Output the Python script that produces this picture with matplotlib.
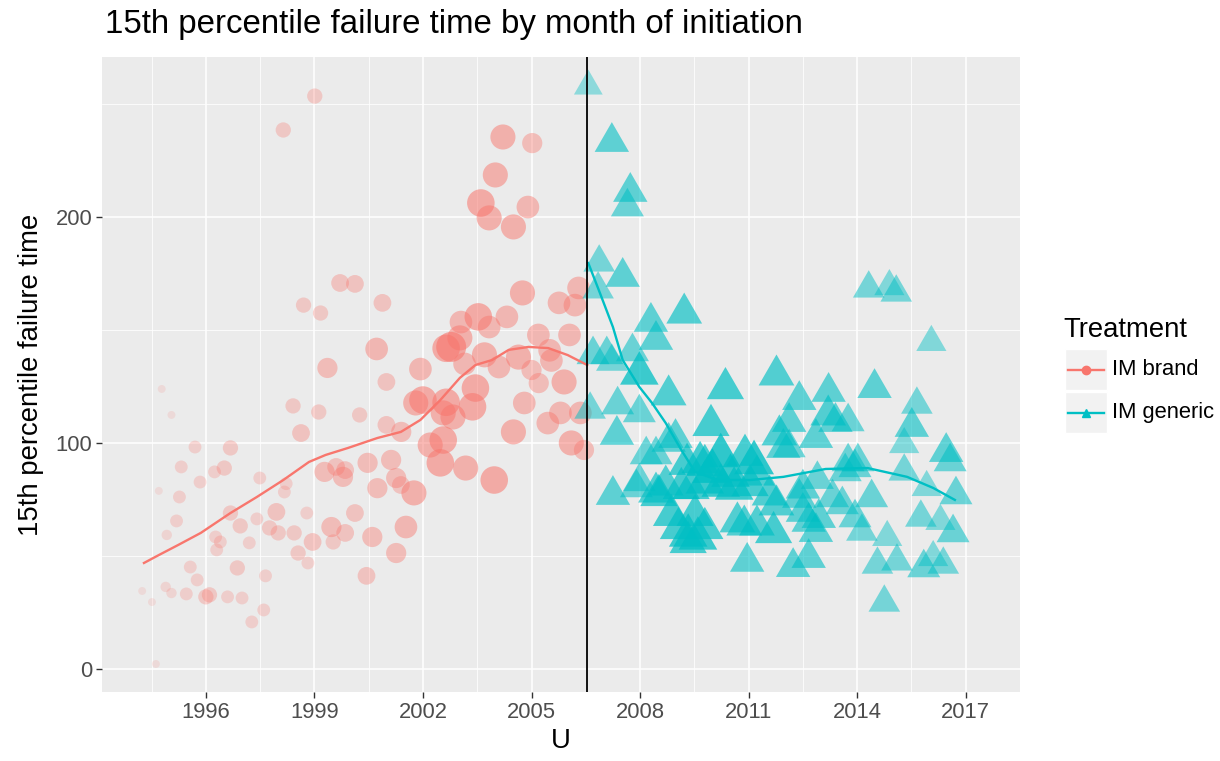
import matplotlib
matplotlib.use("Agg")
import matplotlib.pyplot as plt
import numpy as np
from matplotlib.lines import Line2D
from matplotlib.patches import Rectangle

# ---------------- data ----------------
# IM brand: decimal year, 15th percentile failure time, weight (1-10)
brand_x = [1999.01, 1998.14, 2004.21, 2005.02, 2004.0, 2003.6, 2003.83, 2004.9, 2004.5,
           1999.71, 2000.12, 1998.7, 1999.17, 2000.88, 2004.75, 2000.72, 1999.36, 2001.93,
           2003.05, 2003.53, 2003.83, 2004.32, 2005.76, 2006.3, 2006.2, 2005.19, 2006.05,
           2002.78, 2002.64, 2003.02, 2003.7, 2004.64, 2005.5, 2003.15, 2005.55, 2000.99,
           2004.1, 2003.45, 2003.37, 2002.64, 2002.0, 2001.8, 2002.83, 2002.56, 2005.0,
           2005.2, 2005.9, 2004.8, 2005.45, 2005.8, 2006.35, 2004.5, 2006.1, 2002.2,
           2002.56, 2002.48, 2003.18, 2003.97, 2000.99, 2000.25, 2001.4, 2000.47, 2001.12,
           1999.85, 2000.74, 2001.39, 2001.75, 2000.12, 2001.53, 2000.6, 1999.85, 2001.26,
           2000.44, 1998.41, 1999.12, 1998.63, 1996.68, 1995.7, 1995.32, 1996.24, 1996.51,
           1995.84, 1994.7, 1995.27, 1994.78, 1995.05, 1997.49, 1998.22, 1998.17, 1995.19,
           1994.92, 1996.68, 1996.95, 1997.41, 1997.95, 1997.76, 1998.0, 1998.44, 1998.79,
           1998.95, 1999.47, 1999.52, 1999.28, 1999.79, 1999.6, 1998.55, 1998.82, 1995.57,
           1995.76, 1996.87, 1997.65, 1994.24, 1994.51, 1994.89, 1995.05, 1995.46, 1996.0,
           1996.1, 1996.6, 1997.0, 1997.6, 1997.27, 1994.62, 1996.4, 1996.27, 1997.2,
           1996.3, 2001.26, 2006.45]
brand_y = [253.5, 238.5, 235.4, 232.7, 218.6, 206.2, 199.6, 204.4, 195.6,
           170.8, 170.4, 161.0, 157.5, 162.0, 166.4, 141.6, 133.2, 132.7,
           153.5, 155.8, 151.3, 155.8, 162.0, 168.6, 161.0, 147.8, 147.8,
           142.5, 141.9, 146.5, 139.0, 138.0, 141.0, 135.0, 136.5, 127.0,
           133.6, 124.3, 116.0, 118.0, 119.0, 117.7, 111.5, 113.3, 132.3,
           126.5, 127.0, 117.7, 108.8, 113.3, 113.3, 104.9, 100.0, 99.1,
           101.3, 91.2, 88.9, 83.6, 108.0, 112.4, 104.9, 91.2, 92.5,
           88.0, 80.0, 81.4, 77.9, 69.0, 62.8, 58.4, 60.2, 51.3,
           41.2, 116.4, 113.7, 104.4, 97.8, 98.2, 89.4, 87.2, 88.9,
           82.7, 78.8, 76.1, 123.9, 112.4, 84.5, 82.0, 78.3, 65.5,
           59.3, 69.0, 63.3, 66.4, 69.5, 62.4, 60.2, 60.2, 69.0,
           56.2, 62.8, 56.2, 87.2, 85.0, 89.4, 51.3, 46.9, 45.1,
           39.4, 44.7, 41.2, 34.5, 29.6, 36.3, 33.6, 33.2, 31.9,
           32.8, 31.9, 31.4, 26.1, 20.8, 2.2, 56.2, 58.4, 55.8,
           52.7, 84.5, 96.9]
brand_w = [4, 4, 8, 6, 8, 9, 8, 7, 8,
           5, 5, 4, 4, 5, 8, 7, 6, 7,
           7, 9, 7, 7, 7, 7, 7, 7, 7,
           10, 9, 8, 8, 8, 7, 7, 7, 5,
           7, 9, 9, 9, 9, 8, 8, 8, 6,
           6, 8, 7, 7, 7, 7, 8, 8, 8,
           9, 9, 8, 9, 5, 4, 6, 6, 6,
           5, 6, 5, 8, 5, 7, 6, 5, 6,
           5, 4, 4, 5, 4, 3, 3, 3, 4,
           3, 1, 3, 1, 1, 3, 3, 3, 3,
           2, 4, 4, 3, 5, 4, 4, 4, 3,
           5, 6, 4, 6, 6, 5, 4, 3, 3,
           3, 4, 3, 1, 1, 2, 2, 3, 4,
           4, 3, 3, 3, 3, 1, 3, 3, 3,
           3, 6, 6]

# IM generic
gen_x = [2006.57, 2007.22, 2007.73, 2007.65, 2006.87, 2007.52, 2006.84, 2008.3, 2008.44,
         2009.22, 2014.32, 2014.89, 2015.08, 2016.05, 2006.7, 2007.08, 2007.22, 2007.79,
         2007.98, 2008.79, 2010.36, 2011.77, 2006.62, 2007.38, 2007.98, 2007.36, 2009.96,
         2008.79, 2008.98, 2008.17, 2008.44, 2009.66, 2010.23, 2011.15, 2011.85, 2012.12,
         2011.96, 2007.25, 2007.98, 2007.9, 2008.52, 2008.71, 2009.14, 2009.41, 2009.79,
         2010.23, 2010.6, 2011.04, 2011.23, 2011.58, 2011.77, 2008.87, 2009.06, 2009.33,
         2009.6, 2009.79, 2009.52, 2010.88, 2011.23, 2011.69, 2010.96, 2012.23, 2014.48,
         2012.4, 2013.21, 2015.65, 2013.2, 2013.4, 2013.75, 2015.51, 2015.3, 2012.12,
         2016.46, 2016.57, 2009.79, 2013.75, 2014.02, 2015.3, 2015.92, 2016.73, 2014.4,
         2013.32, 2013.59, 2015.76, 2016.3, 2016.65, 2013.94, 2014.13, 2014.83, 2015.1,
         2014.56, 2015.84, 2016.1, 2016.38, 2014.75, 2012.86, 2012.66, 2010.69, 2012.5,
         2012.66, 2012.86, 2013.94, 2013.67, 2012.94, 2012.4, 2008.44, 2010.0, 2010.5,
         2009.3, 2010.9, 2012.5, 2012.9, 2009.33]
gen_y = [259.7, 235.4, 213.3, 206.6, 181.9, 175.7, 170.0, 155.8, 147.8,
         159.7, 170.4, 171.2, 168.6, 146.5, 141.2, 141.2, 138.0, 142.5,
         133.2, 123.5, 126.5, 132.3, 116.8, 119.0, 115.5, 105.8, 110.2,
         102.7, 104.4, 96.9, 96.9, 93.8, 96.9, 93.8, 105.8, 111.5,
         100.0, 79.2, 85.0, 82.3, 79.2, 83.6, 82.3, 82.3, 85.0,
         83.6, 82.3, 83.6, 88.0, 79.2, 74.8, 70.4, 64.6, 61.5,
         60.2, 64.6, 70.4, 65.9, 65.9, 62.8, 49.6, 47.3, 126.5,
         121.2, 124.8, 119.0, 114.6, 111.5, 111.5, 109.3, 101.3, 100.0,
         98.2, 93.8, 92.5, 93.8, 93.8, 89.4, 82.3, 79.2, 77.9,
         77.9, 74.8, 69.0, 67.3, 62.4, 69.0, 62.8, 60.2, 49.6,
         48.2, 46.9, 51.3, 48.2, 31.4, 62.8, 51.3, 67.3, 71.7,
         67.3, 104.4, 91.2, 89.4, 69.0, 77.9, 80.5, 90.0, 88.0,
         93.0, 97.0, 82.0, 86.0, 58.4]
gen_w = [2, 6, 6, 5, 4, 6, 4, 6, 6,
         7, 4, 3, 4, 3, 5, 5, 4, 5,
         9, 7, 8, 7, 4, 5, 5, 6, 8,
         6, 6, 5, 5, 8, 10, 10, 7, 6,
         6, 6, 5, 5, 8, 7, 8, 8, 9,
         9, 9, 8, 7, 7, 7, 8, 8, 9,
         9, 8, 8, 7, 7, 8, 6, 6, 6,
         6, 6, 4, 7, 6, 5, 6, 3, 5,
         6, 5, 8, 5, 5, 4, 3, 5, 5,
         5, 5, 4, 3, 5, 5, 4, 3, 4,
         4, 5, 3, 4, 4, 6, 6, 7, 6,
         6, 6, 5, 5, 6, 6, 7, 10, 9,
         8, 8, 6, 5, 8]

# smoothed trends
brand_smooth_x = [1994.29, 1994.7, 1995.24, 1995.86, 1996.68, 1997.41, 1998.14, 1998.85,
                  1999.31, 1999.93, 2000.74, 2001.39, 2001.93, 2002.48, 2003.02, 2003.45,
                  2003.91, 2004.37, 2004.92, 2005.46, 2006.0, 2006.54]
brand_smooth_y = [46.9, 50.4, 54.9, 60.2, 69.0, 76.1, 83.6, 91.6,
                  94.7, 97.8, 102.2, 104.9, 110.2, 119.0, 128.8, 134.5,
                  136.7, 141.2, 142.5, 142.0, 138.9, 134.5]
gen_smooth_x = [2006.57, 2006.89, 2007.25, 2007.52, 2007.98, 2008.33, 2008.71, 2009.14,
                2009.52, 2010.15, 2011.04, 2011.96, 2013.13, 2014.29, 2015.38, 2016.1, 2016.7]
gen_smooth_y = [179.6, 166.4, 151.3, 136.7, 124.8, 117.7, 108.8, 96.9,
                87.2, 83.6, 83.6, 85.0, 88.5, 88.9, 85.0, 80.1, 74.8]

switch_year = 2006.54
x_breaks = [1996, 1999, 2002, 2005, 2008, 2011, 2014, 2017]
y_breaks = [0, 100, 200]
legend_labels = ["IM brand", "IM generic"]

# ---------------- styling ----------------
RED = "#F8766D"
CYAN = "#00BFC4"
W, H = 1220, 761
plt.rcParams["font.family"] = ["Liberation Sans", "DejaVu Sans"]

fig = plt.figure(figsize=(W / 100, H / 100), dpi=100)
L, R, T, B = 102, 1020, 57, 692
ax = fig.add_axes([L / W, 1 - B / H, (R - L) / W, (B - T) / H])
ax.set_facecolor("#EBEBEB")
for s in ax.spines.values():
    s.set_visible(False)

ax.set_xlim(1993.13, 2018.0)
ax.set_ylim(-10.2, 270.8)

ax.set_xticks(x_breaks)
ax.set_xticks([b - 1.5 for b in x_breaks] + [x_breaks[-1] + 1.5], minor=True)
ax.set_yticks(y_breaks)
ax.set_yticks([50, 150, 250], minor=True)
ax.set_xticklabels([str(b) for b in x_breaks])
ax.grid(which="major", color="white", lw=1.1)
ax.grid(which="minor", color="white", lw=0.55)
ax.set_axisbelow(True)
ax.tick_params(which="major", length=4, width=1, color="#333333",
               labelsize=15.8, labelcolor="#4D4D4D", pad=3)
ax.tick_params(which="minor", length=0)

# points
bw = np.array(brand_w, dtype=float)
bd = 5.5 + 2.45 * bw
bcol = np.zeros((len(bw), 4))
bcol[:, :3] = matplotlib.colors.to_rgb(RED)
bcol[:, 3] = 0.1 + 0.05 * bw
ax.scatter(brand_x, brand_y, s=(bd * 0.72) ** 2, c=bcol, marker="o",
           linewidths=0, zorder=2)

tri = [(-1, -0.866), (1, -0.866), (0, 0.866)]
gw = np.array(gen_w, dtype=float)
gd = 26 + 1.4 * gw
gcol = np.zeros((len(gw), 4))
gcol[:, :3] = matplotlib.colors.to_rgb(CYAN)
gcol[:, 3] = 0.3 + 0.05 * gw
ax.scatter(gen_x, gen_y, s=(gd * 0.72) ** 2, c=gcol, marker=tri,
           linewidths=0, zorder=2)

ax.plot(brand_smooth_x, brand_smooth_y, color=RED, lw=1.7, zorder=3)
ax.plot(gen_smooth_x, gen_smooth_y, color=CYAN, lw=1.7, zorder=3)
ax.axvline(switch_year, color="black", lw=1.3, zorder=4)

ax.set_xlabel("U", fontsize=19.8, labelpad=4)
ax.set_ylabel("15th percentile failure time", fontsize=19.8, labelpad=8)
fig.text(105 / W, 1 - 25 / H, "15th percentile failure time by month of initiation",
         fontsize=23.8, ha="left", va="center")

# legend (drawn manually, ggplot style)
fig.text(1063 / W, 1 - 330 / H, "Treatment", fontsize=19.8, ha="left", va="center")
for i, (lab, col, mk) in enumerate(zip(legend_labels, [RED, CYAN], ["o", "^"])):
    y0 = 349 + i * 43
    fig.patches.append(Rectangle((1065 / W, 1 - (y0 + 41) / H), 42 / W, 41 / H,
                                 transform=fig.transFigure, facecolor="#F2F2F2",
                                 edgecolor="white", lw=1))
    yc = 1 - (y0 + 20.5) / H
    fig.lines.append(Line2D([1068 / W, 1104 / W], [yc, yc], transform=fig.transFigure,
                            color=col, lw=1.7))
    fig.lines.append(Line2D([1086 / W], [yc], transform=fig.transFigure, color=col,
                            marker=mk, markersize=6, lw=0))
    fig.text(1112 / W, yc, lab, fontsize=15.8, ha="left", va="center")

fig.savefig("out.png", dpi=100)
